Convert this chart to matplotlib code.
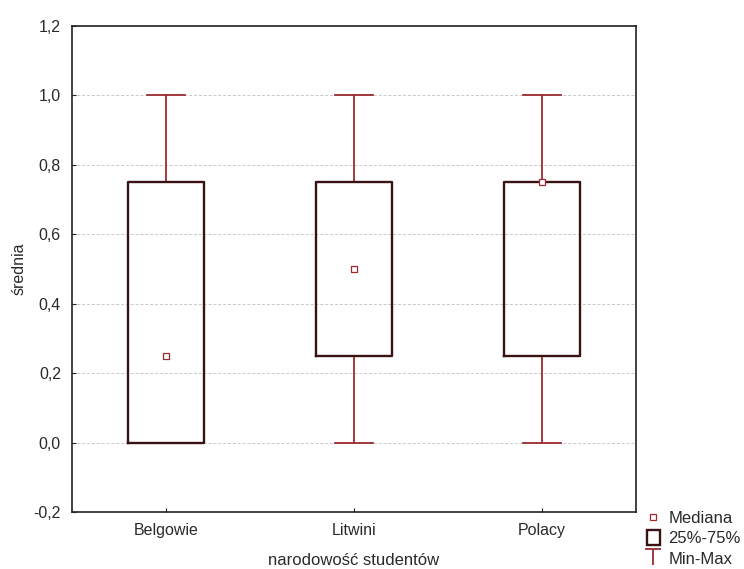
import matplotlib.pyplot as plt
from matplotlib.lines import Line2D
from matplotlib.patches import Rectangle
from matplotlib.path import Path

plt.rcParams["font.family"] = ["Liberation Sans", "DejaVu Sans"]

groups = ["Belgowie", "Litwini", "Polacy"]
medians = [0.25, 0.50, 0.75]
q1 = [0.0, 0.25, 0.25]
q3 = [0.75, 0.75, 0.75]
mins = [0.0, 0.0, 0.0]
maxs = [1.0, 1.0, 1.0]
yticks = [-0.2, 0.0, 0.2, 0.4, 0.6, 0.8, 1.0, 1.2]

BOX_C = "#3b1214"
WHISK_C = "#9c2b2f"
TXT_C = "#2a2a2a"

fig = plt.figure(figsize=(7.44, 5.69), dpi=100)
ax = fig.add_axes([72 / 744, 57 / 569, 564 / 744, 486 / 569])

stats = []
for i, g in enumerate(groups):
    stats.append({"label": g, "med": medians[i], "q1": q1[i], "q3": q3[i],
                  "whislo": mins[i], "whishi": maxs[i], "fliers": []})

pos = list(range(len(groups)))
ax.bxp(stats, positions=pos, widths=0.4, showfliers=False,
       boxprops=dict(color=BOX_C, linewidth=1.7, zorder=4),
       whiskerprops=dict(color=WHISK_C, linewidth=1.3, zorder=3),
       capprops=dict(color=WHISK_C, linewidth=1.3, zorder=3),
       medianprops=dict(visible=False), capwidths=0.2)
ax.scatter(pos, medians, marker="s", s=20, facecolor="white",
           edgecolor=WHISK_C, linewidth=0.9, zorder=5)

ax.set_xlim(-0.5, 2.5)
ax.set_ylim(-0.2, 1.2)
ax.set_yticks(yticks)
ax.set_yticklabels([f"{v:.1f}".replace(".", ",") for v in yticks])
ax.set_xticks(pos)
ax.set_xticklabels(groups)
ax.grid(axis="y", color="#c8c8c8", linestyle=(0, (3, 2)), linewidth=0.7)
ax.set_axisbelow(True)
for sp in ax.spines.values():
    sp.set_color("#222222")
    sp.set_linewidth(1.2)
ax.tick_params(direction="in", length=3, labelsize=11.5, labelcolor=TXT_C,
               colors="#222222", pad=8)
ax.set_xlabel("narodowość studentów", fontsize=12, color=TXT_C, labelpad=11)
ax.set_ylabel("średnia", fontsize=11.5, color=TXT_C, labelpad=5)

# legend, drawn outside the axes at the bottom right
tee = Path([(-1, 1), (1, 1), (0, 1), (0, -1)],
           [Path.MOVETO, Path.LINETO, Path.MOVETO, Path.LINETO])
handles = [
    Line2D([], [], linestyle="none", marker="s", markersize=4,
           markerfacecolor="white", markeredgecolor=WHISK_C, markeredgewidth=0.9),
    Rectangle((0, 0), 1, 1, facecolor="white", edgecolor=BOX_C, linewidth=1.7),
    Line2D([], [], linestyle="none", marker=tee, markersize=12,
           color=WHISK_C, markeredgewidth=1.3),
]
leg = fig.legend(handles, ["Mediana", "25%-75%", "Min-Max"],
                 loc="lower right", bbox_to_anchor=(1.0, -0.002),
                 frameon=False, fontsize=12, handlelength=0.78, handleheight=1.0,
                 handletextpad=0.5, labelspacing=0.25, borderpad=0.1,
                 borderaxespad=0.1)
for t in leg.get_texts():
    t.set_color(TXT_C)

fig.savefig("out.png", dpi=100)
